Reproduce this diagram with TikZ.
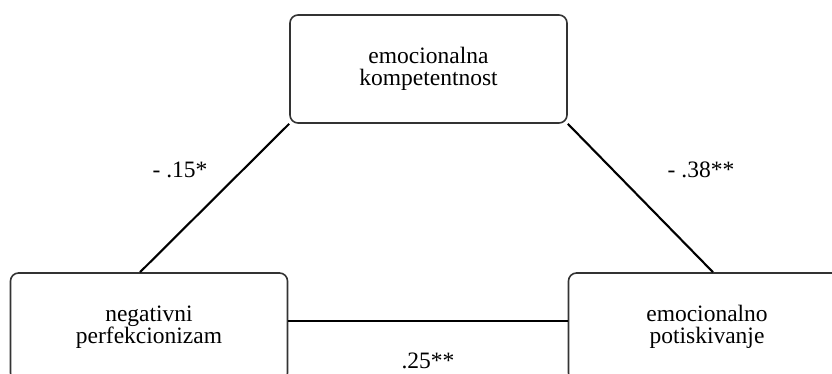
\documentclass[tikz,border=0pt]{standalone}
\usepackage{fontspec}
\setmainfont{Liberation Serif}
\begin{document}
\begin{tikzpicture}[x=1pt, y=-1pt,
		box/.style={draw=black!80, line width=1.6pt, rounded corners=8pt, minimum width=277pt, minimum height=108pt, align=center, inner sep=0pt, font=\fontsize{23.5}{22}\selectfont},
		link/.style={line width=2.1pt},
		coef/.style={font=\fontsize{23.5}{22}\selectfont, anchor=base, inner sep=0pt}]
			\useasboundingbox (0,0) rectangle (832,373);
			\clip (0,0) rectangle (832,373);

			\node[box] (emo) at(428.5, 69){emocionalna\\kompetentnost};
			\node[box] (neg) at(149, 327){negativni\\perfekcionizam};
			\node[box] (pot) at(707, 327){emocionalno\\potiskivanje};

			\draw[link] (emo.south west) to ([xshift=-9pt]neg.north);
			\draw[link] (emo.south east) to ([xshift=6pt]pot.north);
			\draw[link] ([yshift=6pt]neg.east) to ([yshift=6pt]pot.west);

			\node[coef] (c1) at(180, 177){- .15*};
			\node[coef] (c2) at(701, 177){- .38**};
			\node[coef] (c3) at(428, 368.5){.25**};
		\end{tikzpicture}
\end{document}
